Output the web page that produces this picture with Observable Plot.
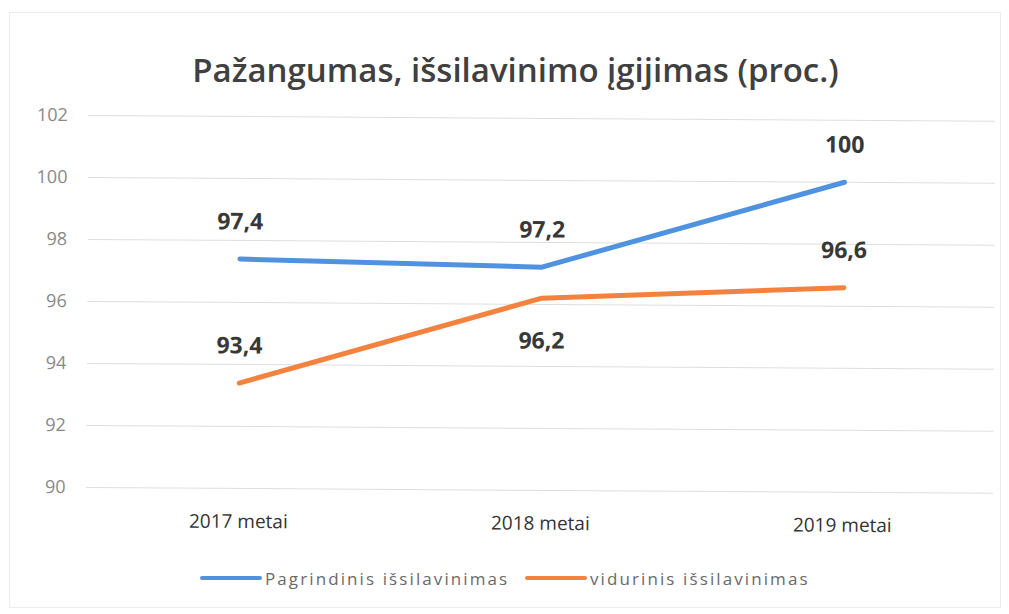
<!DOCTYPE html>
<html>
<head>
<meta charset="utf-8">
<script src="https://cdn.jsdelivr.net/npm/d3@7"></script>
<script src="https://cdn.jsdelivr.net/npm/@observablehq/plot@0.6"></script>
<style>
  html, body { margin: 0; padding: 0; background: #fff; }
  body { width: 1009px; height: 614px; overflow: hidden; position: relative; font-family: "Open Sans", "Noto Sans", sans-serif; }
  #frame { position: absolute; left: 9px; top: 12px; width: 992px; height: 596px; border: 1px solid #ececec; box-sizing: border-box; pointer-events: none; }
  #title { position: absolute; top: 0; left: 0; width: 1009px; height: 100px; text-align: center; font-size: 33px; font-weight: 600; color: #404040; line-height: 140px; padding-left: 22px; box-sizing: border-box; }
  #chart { position: absolute; top: 100px; left: 0; transform-origin: 88px 77px; transform: rotate(0.36deg); }
  #legend { position: absolute; top: 566px; left: 0; width: 1009px; height: 24px; font-size: 17px; color: #6a6a6a; }
  .item { position: absolute; top: 0; display: flex; align-items: center; height: 24px; letter-spacing: 2.1px; }
  .swatch { width: 62px; height: 4px; margin-right: 3px; border-radius: 2px; }
</style>
</head>
<body>
<div id="frame"></div>
<div id="title">Pažangumas, išsilavinimo įgijimas (proc.)</div>
<div id="chart"></div>
<div id="legend"></div>
<script>
const years = ["2017 metai", "2018 metai", "2019 metai"];
const seriesNames = ["Pagrindinis išsilavinimas", "vidurinis išsilavinimas"];
const pagrindinis = [97.4, 97.2, 100];
const vidurinis = [93.4, 96.2, 96.6];
const yTicks = [90, 92, 94, 96, 98, 100, 102];
const colors = ["#4f93e0", "#f3823f"];
const labelBelow = [[false, false, false], [false, true, false]];

const rows = [];
[pagrindinis, vidurinis].forEach((vals, s) => {
  vals.forEach((v, i) => rows.push({year: years[i], value: v, series: seriesNames[s], below: labelBelow[s][i]}));
});
const fmt = v => String(v).replace(".", ",");

const chart = Plot.plot({
  width: 1009,
  height: 455,
  marginLeft: 88,
  marginRight: 14,
  marginTop: 15,
  marginBottom: 68,
  style: {fontFamily: "'Open Sans', 'Noto Sans', sans-serif", background: "transparent", overflow: "visible"},
  x: {type: "point", domain: years, padding: 0.5},
  y: {domain: [90, 102], ticks: yTicks},
  color: {domain: seriesNames, range: colors},
  marks: [
    Plot.gridY(yTicks, {stroke: "#dedede", strokeOpacity: 1, strokeWidth: 1}),
    Plot.axisY(yTicks, {tickSize: 0, tickPadding: 21, fontSize: 18, fill: "#8a8a8a", label: null}),
    Plot.axisX({tickSize: 0, tickPadding: 26, fontSize: 19, fill: "#333", label: null}),
    Plot.line(rows, {x: "year", y: "value", stroke: "series", z: "series", strokeWidth: 5, strokeLinecap: "round", strokeLinejoin: "round"}),
    Plot.text(rows.filter(d => !d.below), {x: "year", y: "value", text: d => fmt(d.value), dy: -37, fontSize: 23, fontWeight: "bold", fill: "#383838"}),
    Plot.text(rows.filter(d => d.below), {x: "year", y: "value", text: d => fmt(d.value), dy: 43, fontSize: 23, fontWeight: "bold", fill: "#383838"})
  ]
});
document.getElementById("chart").appendChild(chart);

const legend = document.getElementById("legend");
const lefts = [200, 525];
seriesNames.forEach((name, i) => {
  const item = document.createElement("div");
  item.className = "item";
  item.style.left = lefts[i] + "px";
  const sw = document.createElement("div");
  sw.className = "swatch";
  sw.style.background = colors[i];
  const t = document.createElement("span");
  t.textContent = name;
  item.appendChild(sw);
  item.appendChild(t);
  legend.appendChild(item);
});
</script>
</body>
</html>
